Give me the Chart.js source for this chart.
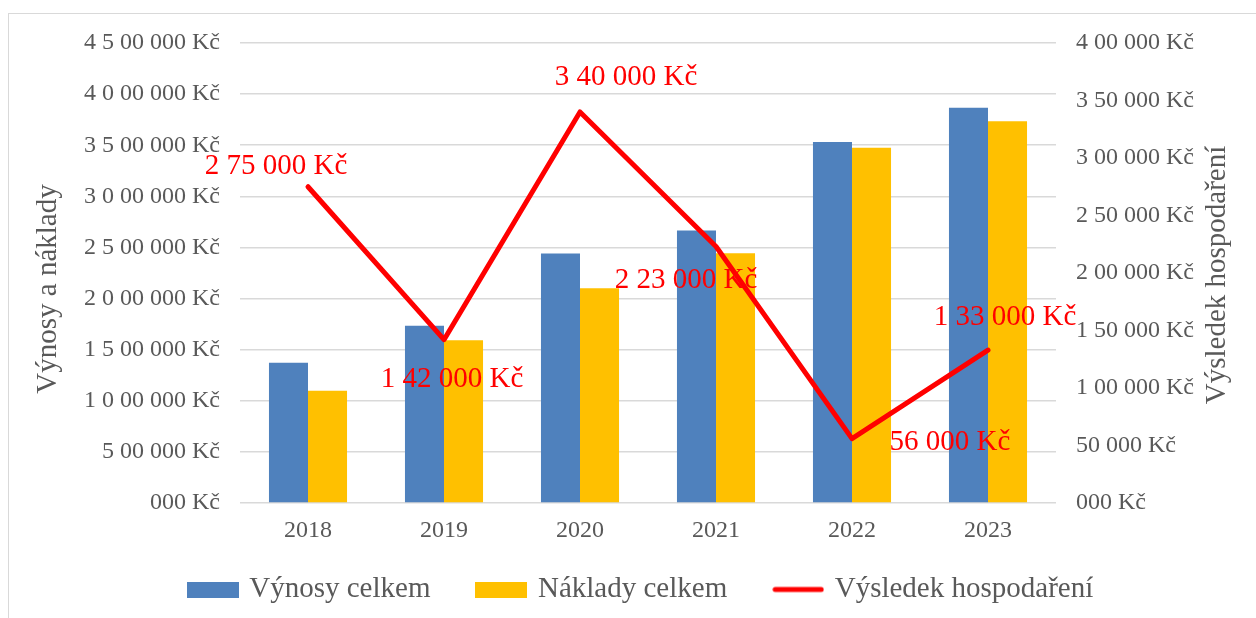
<!DOCTYPE html>
<html>
<head>
<meta charset="utf-8">
<script src="https://cdn.jsdelivr.net/npm/chart.js@4/dist/chart.umd.min.js"></script>
<style>
  html, body { margin: 0; padding: 0; background: #ffffff; overflow: hidden; }
  #frame { position: absolute; left: 8px; top: 13px; width: 1400px; height: 800px; border: 1px solid #d9d9d9; box-sizing: border-box; }
  #wrap { position: absolute; left: 0; top: 0; width: 1256px; height: 618px; }
</style>
</head>
<body>
<div id="frame"></div>
<div id="wrap"><canvas id="c" width="1256" height="618"></canvas></div>
<script>
const years = ['2018', '2019', '2020', '2021', '2022', '2023'];
const vynosy = [1372000, 1734000, 2440000, 2665000, 3532000, 3867000];
const naklady = [1097000, 1592000, 2100000, 2442000, 3476000, 3734000];
const vysledek = [275000, 142000, 340000, 223000, 56000, 133000];
const seriesNames = ['Výnosy celkem', 'Náklady celkem', 'Výsledek hospodaření'];
const leftAxisTitle = 'Výnosy a náklady';
const rightAxisTitle = 'Výsledek hospodaření';

function fmtKc(v) {
  const s = String(Math.round(Math.abs(v)));
  const parts = [s.slice(-3).padStart(3, '0')];
  let rest = s.slice(0, -3);
  if (rest.length) {
    parts.unshift(rest.slice(-2));
    rest = rest.slice(0, -2);
    while (rest.length) { parts.unshift(rest.slice(-1)); rest = rest.slice(0, -1); }
  }
  return parts.join(' ') + ' Kč';
}

const FONT = 'Liberation Serif, Times New Roman, serif';
const GRAY = '#595959';
const BLUE = '#4f81bd';
const GOLD = '#ffc000';
const RED = '#ff0000';

// legend swatches
function swatchRect(color) {
  const c = document.createElement('canvas');
  c.width = 52; c.height = 16;
  const g = c.getContext('2d');
  g.fillStyle = color; g.fillRect(0, 0, 52, 16);
  return c;
}
function swatchLine(color) {
  const c = document.createElement('canvas');
  c.width = 52; c.height = 8;
  const g = c.getContext('2d');
  g.strokeStyle = color; g.lineWidth = 5; g.lineCap = 'round';
  g.beginPath(); g.moveTo(3, 4); g.lineTo(49, 4); g.stroke();
  return c;
}
const swatches = [swatchRect(BLUE), swatchRect(GOLD), swatchLine(RED)];

const labelOffsets = [[-32, -20], [8, 40], [46, -35], [-30, 34], [98, 4], [17, -33]];

const dataLabelPlugin = {
  id: 'dataLabelPlugin',
  afterDatasetsDraw(chart) {
    const meta = chart.getDatasetMeta(2);
    const ctx = chart.ctx;
    ctx.save();
    ctx.font = '29px ' + FONT;
    ctx.fillStyle = RED;
    ctx.textAlign = 'center';
    ctx.textBaseline = 'middle';
    meta.data.forEach((pt, i) => {
      const o = labelOffsets[i];
      ctx.fillText(fmtKc(chart.data.datasets[2].data[i]), pt.x + o[0], pt.y + o[1]);
    });
    ctx.restore();
  }
};

const axisTitlePlugin = {
  id: 'axisTitlePlugin',
  afterDraw(chart) {
    const ctx = chart.ctx;
    const drawT = (text, x, y) => {
      ctx.save();
      ctx.translate(x, y);
      ctx.rotate(-Math.PI / 2);
      ctx.font = '29px ' + FONT;
      ctx.fillStyle = GRAY;
      ctx.textAlign = 'center';
      ctx.textBaseline = 'middle';
      ctx.fillText(text, 0, 0);
      ctx.restore();
    };
    drawT(leftAxisTitle, chart.scales.y.left + 20, chart.chartArea.top + 246);
    drawT(rightAxisTitle, chart.scales.y1.right - 39, chart.chartArea.top + 232);
  }
};

const legendShiftPlugin = {
  id: 'legendShiftPlugin',
  afterLayout(chart) {
    if (chart.legend) { chart.legend.top -= 22; }
  }
};

new Chart(document.getElementById('c'), {
  data: {
    labels: years,
    datasets: [
      { type: 'bar', label: seriesNames[0], data: vynosy, backgroundColor: BLUE, yAxisID: 'y', order: 1,
        categoryPercentage: 0.574, barPercentage: 1.0 },
      { type: 'bar', label: seriesNames[1], data: naklady, backgroundColor: GOLD, yAxisID: 'y', order: 1,
        categoryPercentage: 0.574, barPercentage: 1.0 },
      { type: 'line', label: seriesNames[2], data: vysledek, borderColor: RED, backgroundColor: RED,
        borderWidth: 5, pointRadius: 0, tension: 0, yAxisID: 'y1', order: -1,
        borderJoinStyle: 'round', borderCapStyle: 'round' }
    ]
  },
  options: {
    responsive: false,
    animation: false,
    devicePixelRatio: 1,
    layout: { padding: { left: 28, right: 0, top: 43, bottom: 0 } },
    plugins: {
      tooltip: { enabled: false },
      legend: {
        position: 'bottom',
        maxHeight: 70,
        labels: {
          sort: (a, b) => a.datasetIndex - b.datasetIndex,
          usePointStyle: true,
          pointStyleWidth: 44,
          boxHeight: 16,
          padding: 49,
          color: GRAY,
          font: { family: FONT, size: 29 },
          generateLabels(chart) {
            return chart.data.datasets.map((ds, i) => ({
              text: ds.label,
              datasetIndex: i,
              fillStyle: ds.type === 'line' ? RED : ds.backgroundColor,
              strokeStyle: ds.type === 'line' ? RED : ds.backgroundColor,
              lineWidth: 0,
              pointStyle: swatches[i],
              fontColor: GRAY,
              hidden: false
            }));
          }
        }
      }
    },
    scales: {
      x: {
        grid: { display: false, drawTicks: false },
        border: { display: false },
        ticks: { color: GRAY, font: { family: FONT, size: 24 }, padding: 13 },
        afterFit(s) { s.height = 45; }
      },
      y: {
        position: 'left',
        min: 0, max: 4500000,
        grid: { color: '#d9d9d9', lineWidth: 1.5, drawTicks: false },
        border: { display: false },
        ticks: { stepSize: 500000, color: GRAY, font: { family: FONT, size: 24 }, padding: 20,
                 callback: v => fmtKc(v) },
        title: { display: false, text: leftAxisTitle },
        afterFit(s) { s.width = 212; }
      },
      y1: {
        position: 'right',
        min: 0, max: 400000,
        grid: { drawOnChartArea: false, drawTicks: false },
        border: { display: false },
        ticks: { stepSize: 50000, color: GRAY, font: { family: FONT, size: 24 }, padding: 20,
                 callback: v => fmtKc(v) },
        title: { display: false, text: rightAxisTitle },
        afterFit(s) { s.width = 200; }
      }
    }
  },
  plugins: [dataLabelPlugin, axisTitlePlugin, legendShiftPlugin]
});
</script>
</body>
</html>
